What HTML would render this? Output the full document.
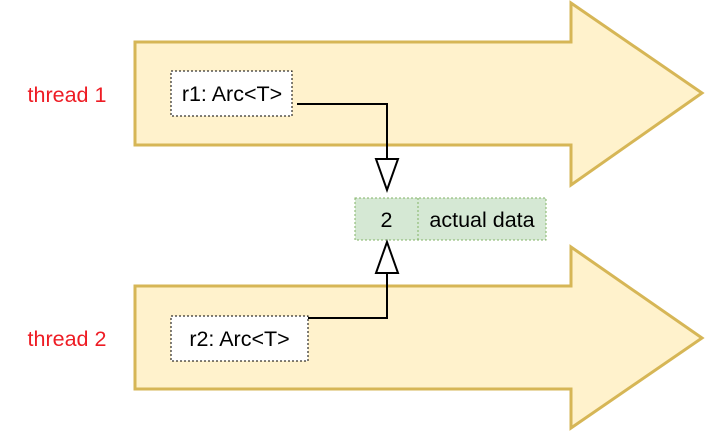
<!DOCTYPE html>
<html><head><meta charset="utf-8"><style>
html,body{margin:0;padding:0;background:#fff;width:720px;height:437px;overflow:hidden}
</style></head><body>
<svg width="720" height="437" viewBox="0 0 720 437" xmlns="http://www.w3.org/2000/svg" font-family="Liberation Sans, Arial, sans-serif">
<polygon points="135,42 571,42 571,3 702,93 571,185 571,145 135,145" fill="#fff2cc" stroke="#d6b656" stroke-width="3"/>
<polygon points="135,286 571,286 571,247 702,338 571,428 571,389 135,389" fill="#fff2cc" stroke="#d6b656" stroke-width="3"/>
<text x="67" y="102" font-size="21.5" fill="#ee1c24" text-anchor="middle">thread 1</text>
<text x="67" y="346" font-size="21.5" fill="#ee1c24" text-anchor="middle">thread 2</text>
<rect x="171" y="71" width="121" height="45" fill="#fff" stroke="#000" stroke-dasharray="2,2"/>
<text x="232" y="101" font-size="21.5" text-anchor="middle">r1: Arc&lt;T&gt;</text>
<rect x="171" y="316" width="137" height="45" fill="#fff" stroke="#000" stroke-dasharray="2,2"/>
<text x="239.5" y="346" font-size="21.5" text-anchor="middle">r2: Arc&lt;T&gt;</text>
<rect x="355" y="198" width="191" height="42" fill="#d5e8d4" stroke="#82b366" stroke-dasharray="2,2"/>
<line x1="418" y1="198" x2="418" y2="240" stroke="#82b366" stroke-dasharray="2,2"/>
<text x="386.5" y="227" font-size="21.5" text-anchor="middle">2</text>
<text x="482" y="227" font-size="21.5" text-anchor="middle">actual data</text>
<polyline points="297,104 387,104 387,159" fill="none" stroke="#000" stroke-width="2"/>
<polygon points="376,159 398,159 387,190" fill="#fff" stroke="#000" stroke-width="2"/>
<polyline points="308,318 387,318 387,273" fill="none" stroke="#000" stroke-width="2"/>
<polygon points="376,273 398,273 387,242" fill="#fff" stroke="#000" stroke-width="2"/>
</svg>
</body></html>
